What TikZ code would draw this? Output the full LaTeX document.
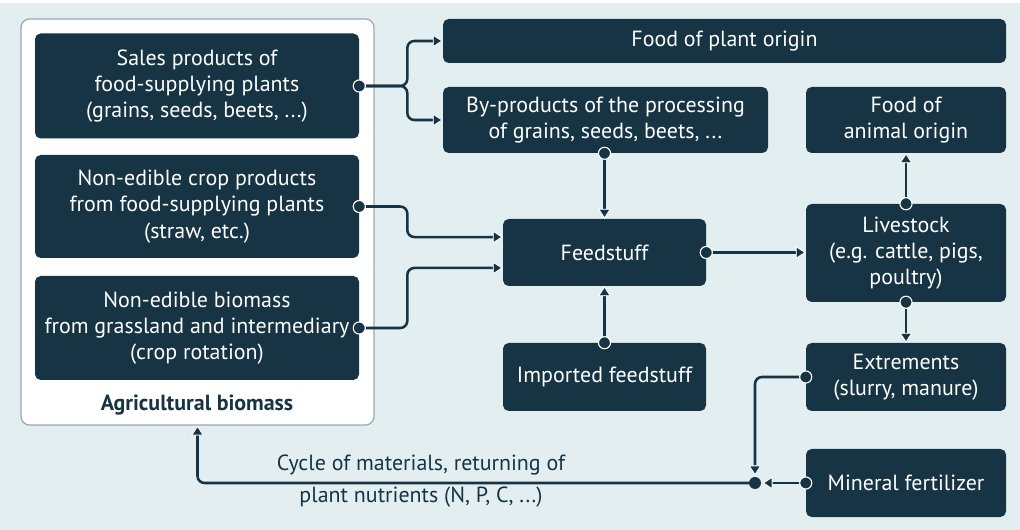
\documentclass[tikz,border=0pt]{standalone}
\usepackage{fontspec}
\setmainfont{PT Sans}
\usetikzlibrary{arrows.meta}
\definecolor{dk}{HTML}{163443}
\definecolor{bgc}{HTML}{E3EEF1}
\definecolor{pnl}{HTML}{9AA9B1}
\begin{document}
\begin{tikzpicture}[x=0.025cm,y=-0.025cm,
  txt/.style={font=\fontsize{15.6}{18.6}\selectfont},
  box/.style={fill=dk, rounded corners=4pt, text=white, align=center, txt, inner sep=0pt},
  conn/.style={draw=dk, line width=1.8pt, rounded corners=5pt,
    -{Triangle[length=7pt,width=9pt,fill=dk,color=white,line width=0.6pt]}},
  knob/.style={fill=dk, draw=white, line width=0.8pt},
  lbl/.style={text=dk, txt, inner sep=0pt}
]
\useasboundingbox (0,0) rectangle (1020,530);
\fill[bgc] (0,0) rectangle (1020,530);
\fill[white] (0,0) rectangle (1020,3);

% agricultural biomass panel
\node[draw=pnl, line width=0.9pt, fill=white, rounded corners=6pt,
  minimum width=353*0.025cm, minimum height=406*0.025cm, inner sep=0pt]
  (panel) at (197.5,222) {};
\node[box, minimum width=324*0.025cm, minimum height=105*0.025cm] (sales) at (197,86)
  {Sales products of\\food-supplying plants\\(grains, seeds, beets, ...)};
\node[box, minimum width=324*0.025cm, minimum height=103*0.025cm] (crop) at (197,206.5)
  {Non-edible crop products\\from food-supplying plants\\(straw, etc.)};
\node[box, minimum width=324*0.025cm, minimum height=104*0.025cm] (grass) at (197,328)
  {Non-edible biomass\\from grassland and intermediary\\(crop rotation)};
\node[lbl, font=\fontsize{15.6}{18.6}\selectfont\bfseries] (agri) at (197,405) {Agricultural biomass};

% right-hand boxes
\node[box, minimum width=563*0.025cm, minimum height=44*0.025cm] (plant) at (724.5,41) {Food of plant origin};
\node[box, minimum width=325*0.025cm, minimum height=66*0.025cm] (byprod) at (605.5,120)
  {By-products of the processing\\of grains, seeds, beets, ...};
\node[box, minimum width=200*0.025cm, minimum height=66*0.025cm] (animal) at (906,120)
  {Food of\\animal origin};
\node[box, minimum width=203*0.025cm, minimum height=67*0.025cm] (feed) at (604.5,252.5) {Feedstuff};
\node[box, minimum width=200*0.025cm, minimum height=98*0.025cm] (live) at (906,253)
  {Livestock\\(e.g. cattle, pigs,\\poultry)};
\node[box, minimum width=203*0.025cm, minimum height=68*0.025cm] (import) at (604.5,377) {Imported feedstuff};
\node[box, minimum width=200*0.025cm, minimum height=68*0.025cm] (excr) at (906,377)
  {Extrements\\(slurry, manure)};
\node[box, minimum width=200*0.025cm, minimum height=68*0.025cm] (mineral) at (906,483) {Mineral fertilizer};

% junction of the nutrient cycle
\node[circle, fill=dk, minimum size=8.5pt, inner sep=0pt] (jn) at (755,483) {};

% connectors
\path (sales.east) ++(48,0) coordinate (split);
\draw[conn] (sales.east) -- (split) |- (plant.west);
\draw[conn] (sales.east) -- (split) |- (byprod.west);
\draw[conn] (crop.east) -- ++(48,0) |- ([yshift=11pt]feed.west);
\draw[conn] (grass.east) -- ++(48,0) |- ([yshift=-11pt]feed.west);
\draw[conn] (byprod.south -| feed.north) -- (feed.north);
\draw[conn] (import.north) -- (feed.south);
\draw[conn] (feed.east) -- (feed.east -| live.west);
\draw[conn] (live.north) -- (animal.south);
\draw[conn] (live.south) -- (excr.north);
\draw[conn] (excr.west) -| ([yshift=1pt]jn.north);
\draw[conn] (mineral.west) -- ([xshift=1pt]jn.east);
\draw[conn] (jn.west) -| (panel.south);

% round knobs where the connectors leave their boxes
\foreach \a in {sales.east, crop.east, grass.east, byprod.south -| feed.north,
  import.north, feed.east, live.north, live.south, excr.west, mineral.west}
  \filldraw[knob] (\a) circle (4.3pt);

\node[lbl] (cyc1) at (421,465) {Cycle of materials, returning of};
\node[lbl] (cyc2) at (421,497) {plant nutrients (N, P, C, ...)};
\end{tikzpicture}
\end{document}
